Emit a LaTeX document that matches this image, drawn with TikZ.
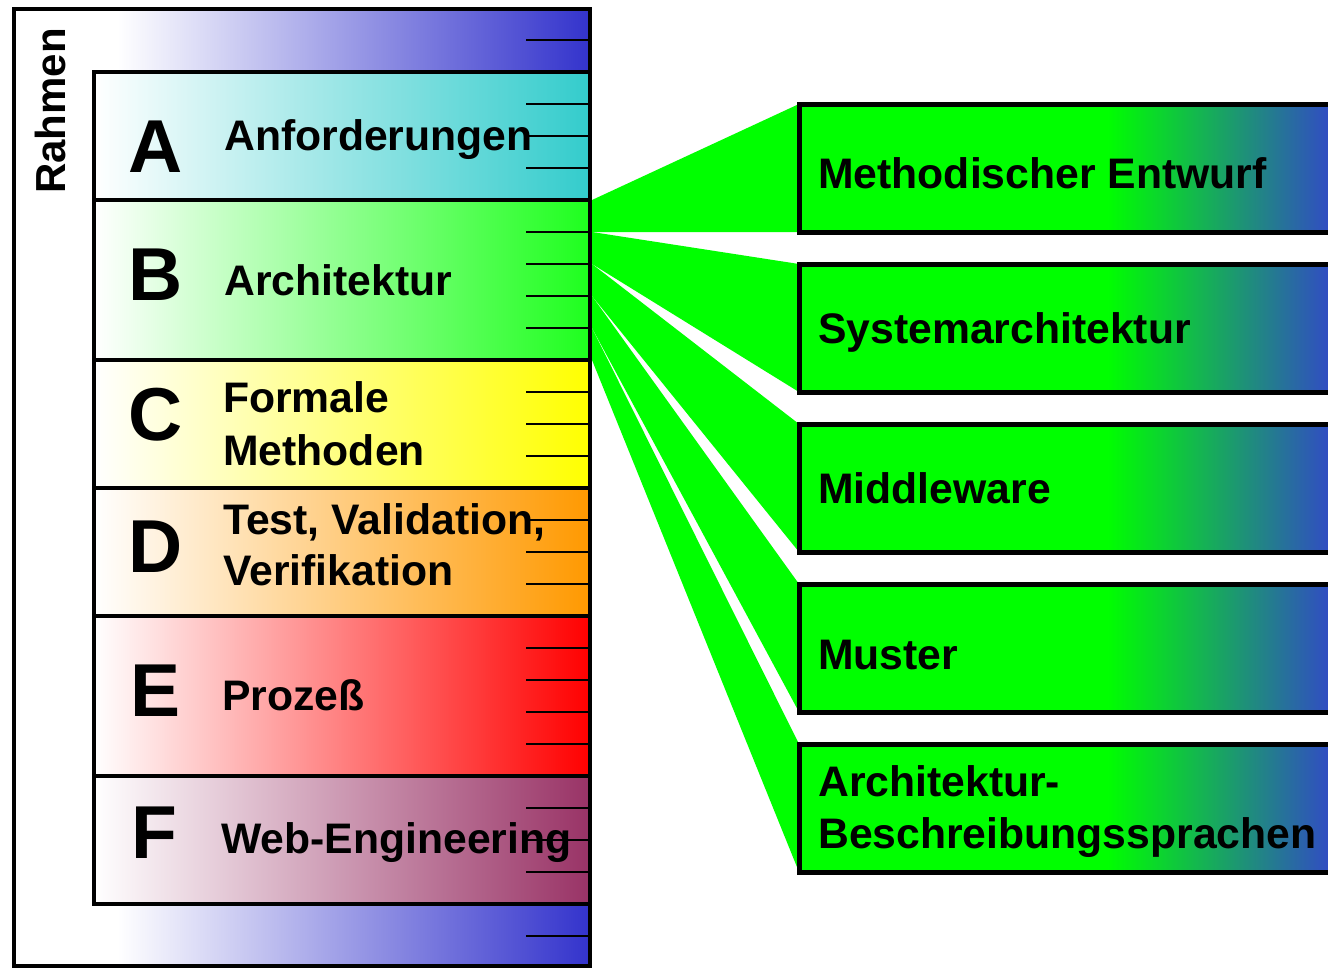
\documentclass[tikz,border=0pt]{standalone}
\usepackage{fontspec}
\setmainfont{Liberation Sans}
\usetikzlibrary{calc}
\definecolor{rblue}{RGB}{51,51,204}
\definecolor{bblue}{RGB}{51,68,204}
\definecolor{rteal}{RGB}{51,204,204}
\definecolor{rgreen}{RGB}{0,255,0}
\definecolor{bandgreen}{RGB}{30,255,30}
\definecolor{ryellow}{RGB}{255,255,0}
\definecolor{rorange}{RGB}{255,153,0}
\definecolor{rred}{RGB}{255,0,0}
\definecolor{rpurple}{RGB}{153,51,102}
\pgfdeclarehorizontalshading{frameshade}{100bp}{color(0bp)=(white); color(34bp)=(white); color(75bp)=(rblue); color(100bp)=(rblue)}
\pgfdeclarehorizontalshading{boxshade}{100bp}{color(0bp)=(rgreen); color(25bp)=(rgreen); color(53.5bp)=(rgreen); color(75bp)=(bblue); color(100bp)=(bblue)}
\tikzset{
  frm/.style={draw, line width=4pt, shade, shading=frameshade, rectangle, inner sep=0pt, outer sep=0pt, anchor=north west, minimum width=576pt, minimum height=957pt},
  band/.style={draw, line width=4pt, rectangle, inner sep=0pt, outer sep=0pt, anchor=north west, minimum width=496pt, left color=white, right color=#1},
  rbox/.style={draw, line width=5pt, shade, shading=boxshade, rectangle, inner sep=0pt, outer sep=0pt, anchor=west, minimum width=541pt, minimum height=128pt},
  wedge/.style={fill=rgreen},
  lbl/.style={font=\bfseries\fontsize{42.7}{50}\selectfont, inner sep=0pt, anchor=base west},
  bigletter/.style={font=\bfseries\fontsize{75}{80}\selectfont, inner sep=0pt, anchor=base},
  tickline/.style={line width=2pt}
}
\begin{document}
\begin{tikzpicture}[x=1pt,y=-1pt]
\useasboundingbox (0,0) rectangle (1328,967);
\clip (0,0) rectangle (1328,967);
% outer frame
\node[frm] (frame) at (14,9) {};
% bands
\node[band=rteal, minimum height=128pt] (bandA) at (94,72) {};
\node[band=bandgreen, minimum height=160pt] (bandB) at (94,200) {};
\node[band=ryellow, minimum height=128pt] (bandC) at (94,360) {};
\node[band=rorange, minimum height=128pt] (bandD) at (94,488) {};
\node[band=rred, minimum height=160pt] (bandE) at (94,616) {};
\node[band=rpurple, minimum height=128pt] (bandF) at (94,776) {};
% right boxes
\node[rbox] (m1) at (799,168) {};
\node[rbox] (m2) at (799,328) {};
\node[rbox] (m3) at (799,488) {};
\node[rbox] (m4) at (799,648) {};
\node[rbox] (m5) at (799,808) {};
% wedges from band B to the boxes
\foreach \k/\m in {1/m1,2/m2,3/m3,4/m4,5/m5}{
  \fill[wedge] ($(bandB.north east)+(2,{32*(\k-1)})$) -- (\m.north west) -- (\m.south west) -- ($(bandB.north east)+(2,{32*\k})$) -- cycle;
}
\foreach \m in {m1,m2,m3,m4,m5}{
  \draw[line width=5pt] (\m.north east) -- (\m.north west) -- (\m.south west) -- (\m.south east);
}
% Rahmen
\node[font=\bfseries\fontsize{42}{48}\selectfont, inner sep=0pt, rotate=90, anchor=base west] (rahmen) at (65,194) {Rahmen};
% letters
\node[bigletter] (la) at (156,172) {A};
\node[bigletter] (lb) at (156,300) {B};
\node[bigletter] (lc) at (156,440) {C};
\node[bigletter] (ld) at (156,572) {D};
\node[bigletter] (le) at (156,716) {E};
\node[bigletter] (lf) at (154,858) {F};
% band labels
\node[lbl] (ta) at (224,150) {Anforderungen};
\node[lbl] (tb) at (224,295) {Architektur};
\node[lbl] (tc1) at (223,412) {Formale};
\node[lbl] (tc2) at (223,465) {Methoden};
\node[lbl] (td1) at (223,534) {Test, Validation,};
\node[lbl] (td2) at (223,585) {Verifikation};
\node[lbl] (te) at (222,710) {Prozeß};
\node[lbl] (tf) at (221,853) {Web-Engineering};
% box labels
\node[lbl] (t1) at (818,188) {Methodischer Entwurf};
\node[lbl] (t2) at (818,343) {Systemarchitektur};
\node[lbl] (t3) at (818,503) {Middleware};
\node[lbl] (t4) at (818,669) {Muster};
\node[lbl] (t5a) at (818,796) {Architektur-};
\node[lbl] (t5b) at (818,848) {Beschreibungssprachen};
% ruler ticks
\foreach \k in {0,...,28}{
  \draw[tickline] ($(frame.north east)+(-64,{31+32*\k})$) -- ($(frame.north east)+(0,{31+32*\k})$);
}
% right edge of frame redrawn over ticks
\draw[line width=4pt] (frame.north east) -- (frame.south east);
\end{tikzpicture}
\end{document}
